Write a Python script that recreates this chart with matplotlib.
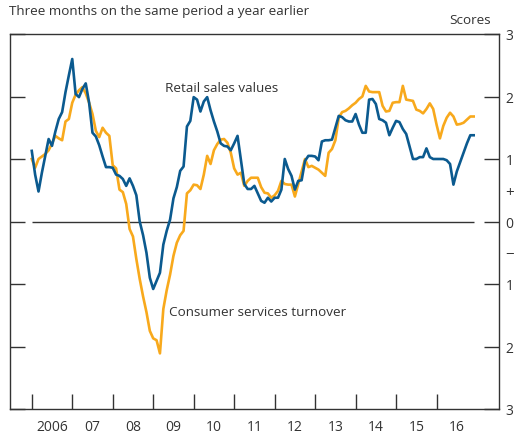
import numpy as np
import matplotlib
matplotlib.use('Agg')
import matplotlib.pyplot as plt
from matplotlib.ticker import FixedLocator, NullFormatter, FixedFormatter

plt.rcParams['font.family'] = ['Open Sans', 'DejaVu Sans']

# monthly, Jan 2006 - Dec 2016
start_year = 2006
retail_sales = [
    1.13, 0.75, 0.48, 0.78, 1.05, 1.32, 1.21, 1.44, 1.64, 1.75, 2.07, 2.34,
    2.60, 2.04, 1.99, 2.12, 2.21, 1.90, 1.42, 1.36, 1.22, 1.04, 0.87, 0.87,
    0.86, 0.75, 0.73, 0.68, 0.57, 0.69, 0.57, 0.42, 0.00, -0.22, -0.50, -0.90,
    -1.08, -0.95, -0.82, -0.37, -0.15, 0.03, 0.37, 0.55, 0.81, 0.88, 1.52, 1.61,
    1.99, 1.95, 1.76, 1.92, 1.99, 1.78, 1.60, 1.44, 1.25, 1.21, 1.20, 1.14,
    1.25, 1.37, 0.98, 0.60, 0.52, 0.52, 0.57, 0.45, 0.33, 0.30, 0.38, 0.32,
    0.38, 0.38, 0.51, 1.00, 0.84, 0.73, 0.51, 0.65, 0.66, 0.97, 1.05, 1.05,
    1.04, 0.98, 1.28, 1.30, 1.30, 1.31, 1.50, 1.69, 1.67, 1.62, 1.60, 1.60,
    1.72, 1.55, 1.42, 1.42, 1.95, 1.96, 1.88, 1.64, 1.62, 1.58, 1.38, 1.50,
    1.61, 1.59, 1.48, 1.40, 1.20, 1.00, 1.00, 1.03, 1.03, 1.17, 1.03, 1.00,
    1.00, 1.00, 1.00, 0.98, 0.92, 0.59, 0.80, 0.95, 1.10, 1.25, 1.38, 1.38,
]
consumer_services = [
    1.00, 0.86, 1.00, 1.04, 1.08, 1.14, 1.25, 1.37, 1.33, 1.30, 1.60, 1.64,
    1.90, 2.03, 2.10, 2.15, 2.05, 1.90, 1.72, 1.45, 1.35, 1.50, 1.42, 1.37,
    0.90, 0.85, 0.51, 0.47, 0.28, -0.12, -0.24, -0.60, -0.92, -1.20, -1.45, -1.75,
    -1.87, -1.90, -2.11, -1.40, -1.10, -0.85, -0.55, -0.34, -0.22, -0.15, 0.45, 0.50,
    0.59, 0.58, 0.52, 0.75, 1.05, 0.92, 1.14, 1.24, 1.31, 1.32, 1.26, 1.10,
    0.85, 0.75, 0.78, 0.57, 0.65, 0.70, 0.70, 0.70, 0.55, 0.46, 0.45, 0.38,
    0.42, 0.49, 0.65, 0.60, 0.59, 0.59, 0.40, 0.60, 0.80, 1.00, 0.87, 0.89,
    0.86, 0.83, 0.78, 0.73, 1.10, 1.16, 1.30, 1.66, 1.75, 1.77, 1.81, 1.86,
    1.90, 1.96, 2.00, 2.17, 2.08, 2.07, 2.07, 2.07, 1.85, 1.76, 1.77, 1.90,
    1.91, 1.91, 2.17, 1.95, 1.94, 1.93, 1.79, 1.77, 1.73, 1.80, 1.89, 1.80,
    1.55, 1.33, 1.53, 1.66, 1.74, 1.68, 1.55, 1.56, 1.58, 1.63, 1.68, 1.68,
]
years = list(range(2006, 2017))
year_labels = ['2006'] + ['%02d' % (y % 100) for y in years[1:]]
y_ticks = [3, 2, 1, 0, -1, -2, -3]
y_labels = ['3', '2', '1', '0', '1', '2', '3']

blue = '#0b5a8f'
orange = '#f8a91c'
grey = '#333333'

t = start_year + np.arange(len(retail_sales)) / 12.0

fig = plt.figure(figsize=(5.17, 4.39), dpi=100)
ax = fig.add_axes([9.5 / 517, 29 / 439, 489 / 517, 375 / 439])

ax.hlines(0, t[0], t[-1], color=grey, lw=1.0, zorder=1)
ax.plot(t, consumer_services, color=orange, lw=1.9, zorder=2)
ax.plot(t, retail_sales, color=blue, lw=1.9, zorder=3)

ax.set_xlim(2005.45, 2017.53)
ax.set_ylim(-3, 3)

for s in ax.spines.values():
    s.set_color(grey)
    s.set_linewidth(1.0)

# x axis: ticks at year starts, labels mid-year
ax.xaxis.set_major_locator(FixedLocator(years))
ax.xaxis.set_major_formatter(NullFormatter())
ax.xaxis.set_minor_locator(FixedLocator([y + 0.5 for y in years]))
ax.xaxis.set_minor_formatter(FixedFormatter(year_labels))
ax.tick_params(axis='x', which='major', direction='in', length=11, width=1.0, color=grey)
ax.tick_params(axis='x', which='minor', length=0, pad=7, labelsize=10, labelcolor=grey)

# y axis: inside ticks both sides, labels on right
ax.yaxis.set_major_locator(FixedLocator(y_ticks))
ax.yaxis.set_major_formatter(FixedFormatter(y_labels))
ax.yaxis.set_minor_locator(FixedLocator([0.5, -0.5]))
ax.yaxis.set_minor_formatter(FixedFormatter(['+', '\u2212']))
ax.tick_params(axis='y', which='major', direction='in', length=11, width=1.0, color=grey,
               left=True, right=True, labelleft=False, labelright=True,
               labelsize=10, labelcolor=grey, pad=5)
ax.tick_params(axis='y', which='minor', length=0, left=False, right=True,
               labelleft=False, labelright=True, labelsize=11, labelcolor=grey, pad=5)

fig.text(9 / 517, 1 - 12 / 439, 'Three months on the same period a year earlier',
         fontsize=9.7, color=grey, va='center', ha='left')
fig.text(491 / 517, 1 - 21 / 439, 'Scores', fontsize=9.7, color=grey, va='center', ha='right')

ax.text(2009.3, 2.14, 'Retail sales values', fontsize=9.7, color=grey, va='center', ha='left')
ax.text(2009.4, -1.44, 'Consumer services turnover', fontsize=9.7, color=grey, va='center', ha='left')

fig.savefig('out.png', dpi=100)
